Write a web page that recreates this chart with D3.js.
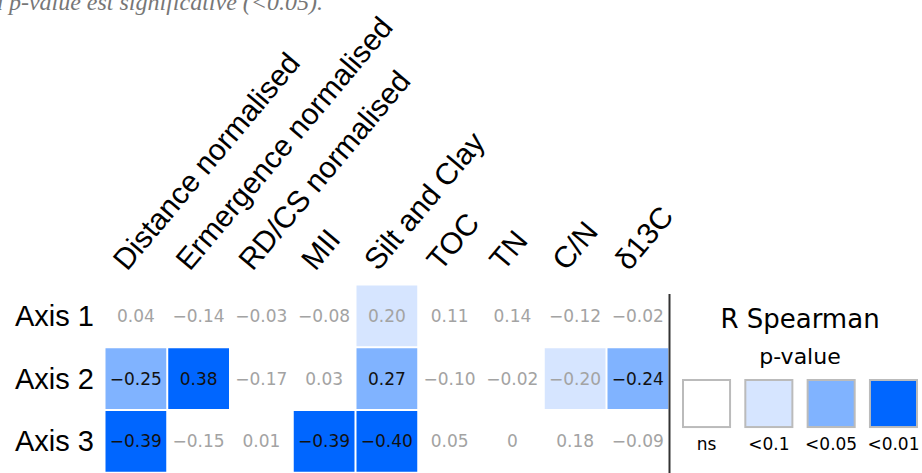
<!DOCTYPE html>
<html>
<head>
<meta charset="utf-8">
<script src="https://cdn.jsdelivr.net/npm/d3@7"></script>
<style>
  html, body { margin: 0; padding: 0; background: #fff; }
  svg { display: block; }
</style>
</head>
<body>
<svg id="chart" width="922" height="473"></svg>
<script>
// ---- data ----
const rows = ["Axis 1", "Axis 2", "Axis 3"];
const cols = ["Distance normalised", "Ermergence normalised", "RD/CS normalised", "MII",
              "Silt and Clay", "TOC", "TN", "C/N", "δ13C"];
const axis1Values = [0.04, -0.14, -0.03, -0.08, 0.20, 0.11, 0.14, -0.12, -0.02];
const axis2Values = [-0.25, 0.38, -0.17, 0.03, 0.27, -0.10, -0.02, -0.20, -0.24];
const axis3Values = [-0.39, -0.15, 0.01, -0.39, -0.40, 0.05, 0, 0.18, -0.09];
// significance level: 0 = ns, 1 = <0.1, 2 = <0.05, 3 = <0.01
const axis1Signif = [0, 0, 0, 0, 1, 0, 0, 0, 0];
const axis2Signif = [2, 3, 0, 0, 2, 0, 0, 1, 2];
const axis3Signif = [3, 0, 0, 3, 3, 0, 0, 0, 0];
const legendLevels = ["ns", "<0.1", "<0.05", "<0.01"];
const legendTitle = "R Spearman";
const legendSubtitle = "p-value";
const caption = "quand p-value est significative (<0.05).";

const values = [axis1Values, axis2Values, axis3Values];
const signif = [axis1Signif, axis2Signif, axis3Signif];
const cells = [];
rows.forEach((r, i) => cols.forEach((c, j) => cells.push({row: r, col: c, v: values[i][j], s: signif[i][j]})));

// ---- scales ----
const cellSize = 62.75;
const x0 = 104.5, y0 = 284.5;
const x = d3.scaleBand().domain(cols).range([x0, x0 + cols.length * cellSize]);
const y = d3.scaleBand().domain(rows).range([y0, y0 + rows.length * cellSize]);
const fill = d3.scaleOrdinal().domain([0, 1, 2, 3]).range(["none", "#d6e5ff", "#80b3ff", "#0066ff"]);
const textColor = d3.scaleOrdinal().domain([0, 1, 2, 3]).range(["#a3a3a3", "#a3a3a3", "#111", "#111"]);
const fmt = v => v === 0 ? "0" : d3.format(".2f")(v);

const svg = d3.select("#chart");

// caption (cut off at top-left, as in the reference)
svg.append("text")
  .attr("x", 323).attr("y", 9.5)
  .attr("text-anchor", "end")
  .attr("font-family", "'Liberation Serif', serif")
  .attr("font-style", "italic")
  .attr("font-size", 24)
  .attr("fill", "#777")
  .text(caption);

// cells
svg.append("g").selectAll("rect")
  .data(cells.filter(d => d.s > 0))
  .join("rect")
  .attr("x", d => x(d.col) + 1)
  .attr("y", d => y(d.row) + 1)
  .attr("width", x.bandwidth() - 2)
  .attr("height", y.bandwidth() - 2)
  .attr("fill", d => fill(d.s));

svg.append("g").selectAll("text")
  .data(cells)
  .join("text")
  .attr("x", d => x(d.col) + x.bandwidth() / 2)
  .attr("y", d => y(d.row) + y.bandwidth() / 2 + 6)
  .attr("text-anchor", "middle")
  .attr("font-family", "'DejaVu Sans', Verdana, sans-serif")
  .attr("font-size", 17)
  .attr("fill", d => textColor(d.s))
  .text(d => fmt(d.v));

// row labels
svg.append("g").selectAll("text")
  .data(rows)
  .join("text")
  .attr("x", 94)
  .attr("y", d => y(d) + y.bandwidth() / 2 + 10)
  .attr("text-anchor", "end")
  .attr("font-family", "'Liberation Sans', Arial, sans-serif")
  .attr("font-size", 29)
  .attr("fill", "#000")
  .text(d => d);

// column labels
svg.append("g").selectAll("text")
  .data(cols)
  .join("text")
  .attr("transform", d => `translate(${x(d) + x.bandwidth() / 2 - 9},272) rotate(-50)`)
  .attr("text-anchor", "start")
  .attr("font-family", "'Liberation Sans', Arial, sans-serif")
  .attr("font-size", 30)
  .attr("fill", "#000")
  .text(d => d);

// separator line
svg.append("line")
  .attr("x1", 669.5).attr("x2", 669.5)
  .attr("y1", 294).attr("y2", 473)
  .attr("stroke", "#333").attr("stroke-width", 2);

// legend
const lg = svg.append("g");
lg.append("text")
  .attr("x", 800).attr("y", 328)
  .attr("text-anchor", "middle")
  .attr("font-family", "'DejaVu Sans', Verdana, sans-serif")
  .attr("font-size", 26)
  .text(legendTitle);
lg.append("text")
  .attr("x", 800).attr("y", 364)
  .attr("text-anchor", "middle")
  .attr("font-family", "'DejaVu Sans', Verdana, sans-serif")
  .attr("font-size", 22)
  .text(legendSubtitle);
const lx = d3.scaleBand().domain(legendLevels).range([683, 917]).paddingInner(0.245);
lg.selectAll("rect")
  .data(legendLevels)
  .join("rect")
  .attr("x", d => lx(d))
  .attr("y", 380)
  .attr("width", lx.bandwidth())
  .attr("height", lx.bandwidth())
  .attr("fill", (d, i) => i === 0 ? "#fff" : fill(i))
  .attr("stroke", "#bbb")
  .attr("stroke-width", 2);
lg.selectAll("text.lbl")
  .data(legendLevels)
  .join("text")
  .attr("class", "lbl")
  .attr("x", d => lx(d) + lx.bandwidth() / 2)
  .attr("y", 450)
  .attr("text-anchor", "middle")
  .attr("font-family", "'DejaVu Sans', Verdana, sans-serif")
  .attr("font-size", 17)
  .text(d => d);
</script>
</body>
</html>
